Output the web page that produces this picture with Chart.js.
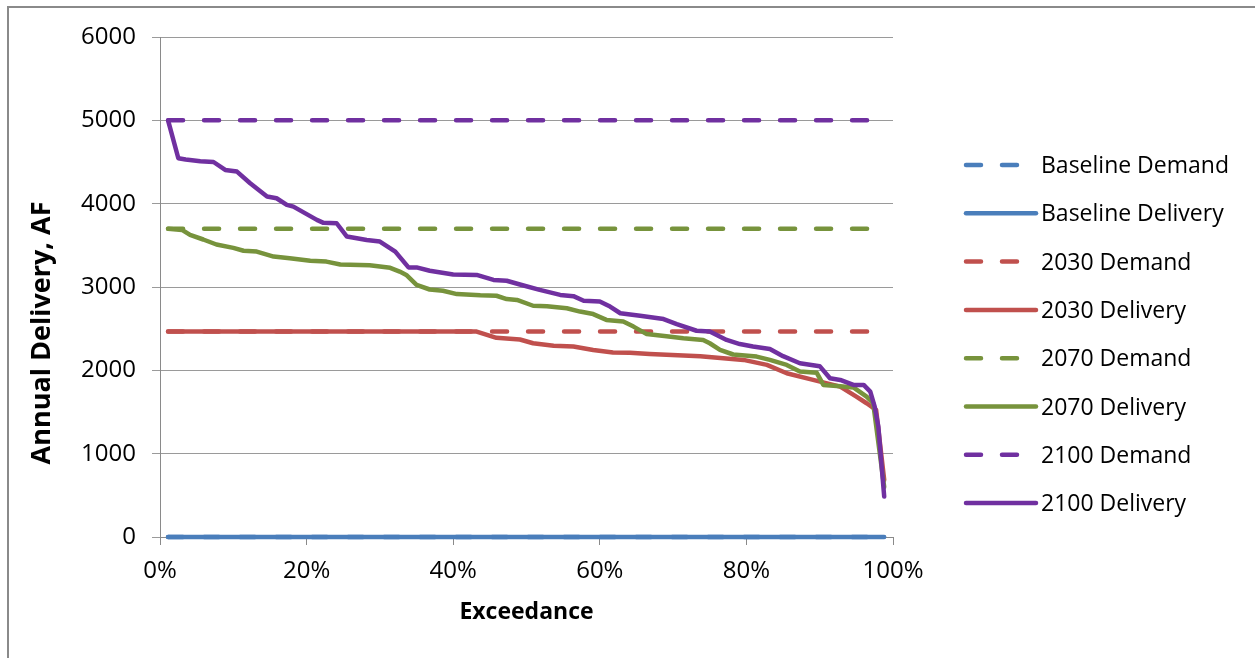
<!DOCTYPE html>
<html>
<head>
<meta charset="utf-8">
<script src="https://cdn.jsdelivr.net/npm/chart.js@4/dist/chart.umd.min.js"></script>
<style>
  html, body { margin: 0; padding: 0; background: #fff; }
  canvas { display: block; }
</style>
</head>
<body>
<canvas id="chart" width="1255" height="658"></canvas>
<script>
// Exceedance (%) and annual delivery (AF) for each scenario
const exceedance2100 = [1.1, 2.5, 3.5, 5.5, 7.3, 8.9, 10.5, 12.3, 14.6, 15.9, 17.3, 18.2, 21.4, 22.3, 24.1, 25.5, 28.2, 30.0, 32.1, 33.9, 35.0, 36.8, 40.0, 43.2, 45.5, 47.3, 49.1, 51.8, 54.6, 56.4, 57.8, 60.0, 61.4, 62.8, 65.5, 68.7, 70.5, 73.2, 75.0, 77.3, 79.1, 80.9, 83.2, 85.0, 87.3, 90.0, 91.4, 92.8, 94.6, 96.0, 96.9, 97.5, 98.0, 98.8];
const delivery2100   = [5000, 4545, 4530, 4510, 4500, 4405, 4385, 4245, 4085, 4065, 3985, 3965, 3805, 3770, 3765, 3605, 3565, 3545, 3425, 3235, 3235, 3195, 3150, 3145, 3085, 3075, 3030, 2965, 2905, 2890, 2835, 2825, 2765, 2685, 2655, 2615, 2555, 2475, 2465, 2365, 2315, 2285, 2255, 2170, 2085, 2050, 1905, 1885, 1825, 1825, 1745, 1565, 1325, 485];

const exceedance2070 = [1.1, 3.0, 4.1, 5.9, 7.7, 10.0, 11.4, 13.2, 15.5, 17.7, 20.5, 22.7, 24.6, 28.6, 31.4, 32.7, 33.6, 35.0, 36.8, 38.6, 40.5, 43.7, 45.9, 47.3, 48.7, 50.9, 52.8, 55.5, 57.3, 59.1, 60.9, 63.2, 64.6, 66.4, 69.1, 71.4, 74.1, 75.0, 76.4, 78.2, 81.4, 83.2, 85.5, 87.3, 89.6, 90.5, 92.8, 94.6, 96.4, 97.3, 98.8];
const delivery2070   = [3700, 3685, 3625, 3570, 3510, 3470, 3435, 3425, 3365, 3345, 3315, 3305, 3270, 3260, 3230, 3185, 3145, 3025, 2970, 2955, 2915, 2900, 2895, 2855, 2845, 2775, 2770, 2745, 2705, 2675, 2605, 2585, 2525, 2435, 2410, 2385, 2365, 2325, 2245, 2190, 2165, 2125, 2065, 1985, 1970, 1825, 1810, 1795, 1685, 1605, 600];

const exceedance2030 = [1.1, 43.2, 45.9, 49.1, 50.9, 53.7, 56.4, 59.1, 61.8, 64.1, 66.8, 73.7, 79.6, 82.8, 85.5, 89.1, 92.8, 95.0, 96.4, 97.7, 98.8];
const delivery2030   = [2465, 2465, 2390, 2370, 2325, 2295, 2285, 2245, 2215, 2210, 2195, 2170, 2125, 2065, 1965, 1885, 1805, 1685, 1605, 1525, 685];

const exceedanceBaseline = [1.1, 98.8];
const deliveryBaseline   = [0, 0];

// Demand levels (AF), constant across the exceedance range
const demandRange    = [1.1, 98.8];
const demandBaseline = 0;
const demand2030     = 2465;
const demand2070     = 3700;
const demand2100     = 5000;

// Axis ticks
const yTicks = [0, 1000, 2000, 3000, 4000, 5000, 6000];
const xTicks = [0, 20, 40, 60, 80, 100];

const seriesNames = ['Baseline Demand', 'Baseline Delivery', '2030 Demand', '2030 Delivery',
                     '2070 Demand', '2070 Delivery', '2100 Demand', '2100 Delivery'];

const BLUE = '#4a7ebb', RED = '#c0504d', GREEN = '#77933c', PURPLE = '#7030a0';
const FONT = "'Open Sans', 'DejaVu Sans', sans-serif";
const DASH = [15, 21];
const LINE_W = 4.5;

const pts = (xs, ys) => xs.map((x, i) => ({ x, y: ys[i] }));
const flat = (level) => demandRange.map(x => ({ x, y: level }));

function series(label, data, color, dashed, idx) {
  return {
    label, data,
    borderColor: color,
    backgroundColor: color,
    borderWidth: LINE_W,
    borderDash: dashed ? DASH : [],
    borderCapStyle: 'round',
    borderJoinStyle: 'round',
    pointRadius: 0,
    pointHoverRadius: 0,
    tension: 0,
    fill: false,
    clip: false,
    order: 7 - idx
  };
}

const datasets = [
  series(seriesNames[0], flat(demandBaseline), BLUE, true, 0),
  series(seriesNames[1], pts(exceedanceBaseline, deliveryBaseline), BLUE, false, 1),
  series(seriesNames[2], flat(demand2030), RED, true, 2),
  series(seriesNames[3], pts(exceedance2030, delivery2030), RED, false, 3),
  series(seriesNames[4], flat(demand2070), GREEN, true, 4),
  series(seriesNames[5], pts(exceedance2070, delivery2070), GREEN, false, 5),
  series(seriesNames[6], flat(demand2100), PURPLE, true, 6),
  series(seriesNames[7], pts(exceedance2100, delivery2100), PURPLE, false, 7)
];

// Frame, vertical axis title and the legend column
const decorations = {
  id: 'decorations',
  beforeDraw(chart) {
    const ctx = chart.ctx;
    ctx.save();
    ctx.fillStyle = '#fff';
    ctx.fillRect(0, 0, chart.width, chart.height);
    ctx.strokeStyle = '#8a8a8a';
    ctx.lineWidth = 2;
    ctx.beginPath();
    ctx.moveTo(8, chart.height);
    ctx.lineTo(8, 7);
    ctx.lineTo(chart.width, 7);
    ctx.stroke();
    ctx.restore();
  },
  afterDraw(chart) {
    const ctx = chart.ctx;
    const area = chart.chartArea;
    ctx.save();
    // y-axis title
    ctx.translate(42, 333);
    ctx.rotate(-Math.PI / 2);
    ctx.font = 'bold 27px ' + FONT;
    ctx.fillStyle = '#000';
    ctx.textAlign = 'center';
    ctx.textBaseline = 'middle';
    ctx.fillText('Annual Delivery, AF', 0, 0);
    ctx.restore();

    // legend
    const x0 = area.right + 73, x1 = x0 + 70, tx = x1 + 5;
    ctx.save();
    ctx.font = '23px ' + FONT;
    ctx.textAlign = 'left';
    ctx.textBaseline = 'alphabetic';
    chart.data.datasets.forEach((ds, i) => {
      const y = 165 + i * 48.3;
      ctx.strokeStyle = ds.borderColor;
      ctx.lineWidth = LINE_W;
      ctx.lineCap = 'round';
      ctx.setLineDash(ds.borderDash);
      ctx.beginPath();
      ctx.moveTo(x0, y);
      ctx.lineTo(x1, y);
      ctx.stroke();
      ctx.setLineDash([]);
      ctx.fillStyle = '#000';
      ctx.fillText(ds.label, tx, y + 8);
    });
    ctx.restore();
  }
};

new Chart(document.getElementById('chart'), {
  type: 'line',
  data: { datasets },
  options: {
    responsive: false,
    animation: false,
    devicePixelRatio: 1,
    layout: { padding: { left: 0, top: 37, right: 362, bottom: 0 } },
    plugins: { legend: { display: false }, tooltip: { enabled: false } },
    scales: {
      x: {
        type: 'linear',
        min: xTicks[0],
        max: xTicks[xTicks.length - 1],
        afterBuildTicks(scale) { scale.ticks = xTicks.map(v => ({ value: v })); },
        afterFit(scale) { scale.height = 121; },
        ticks: {
          callback: v => v + '%',
          font: { family: FONT, size: 24 },
          color: '#000',
          padding: 12,
          maxRotation: 0
        },
        grid: { drawOnChartArea: false, drawTicks: true, tickLength: 8, color: '#8a8a8a' },
        border: { display: true, color: '#8a8a8a', width: 1 },
        title: {
          display: true,
          text: 'Exceedance',
          font: { family: FONT, size: 23, weight: 'bold' },
          color: '#000',
          padding: { top: 0, bottom: 32 }
        }
      },
      y: {
        type: 'linear',
        min: yTicks[0],
        max: yTicks[yTicks.length - 1],
        afterBuildTicks(scale) { scale.ticks = yTicks.map(v => ({ value: v })); },
        afterFit(scale) { scale.width = 160; },
        ticks: {
          callback: v => String(v),
          font: { family: FONT, size: 24 },
          color: '#000',
          padding: 16
        },
        grid: { drawTicks: true, tickLength: 8, color: '#9a9a9a', lineWidth: 1 },
        border: { display: true, color: '#8a8a8a', width: 1 }
      }
    }
  },
  plugins: [decorations]
});
</script>
</body>
</html>
